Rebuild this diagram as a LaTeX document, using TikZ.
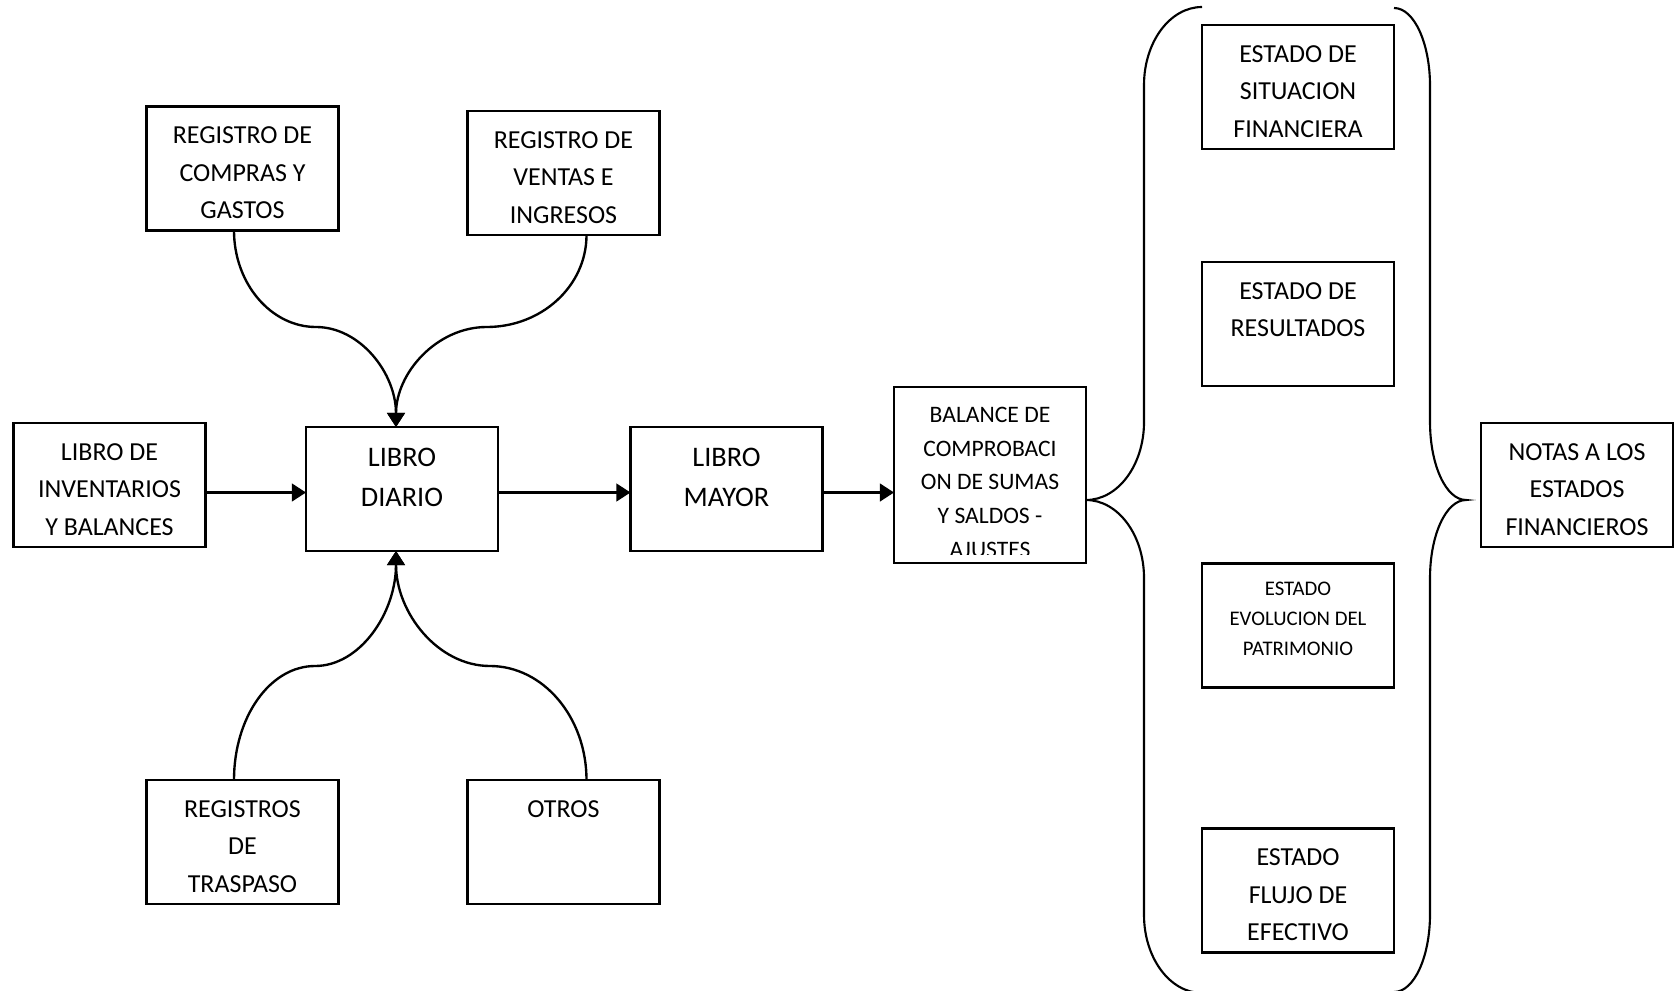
\documentclass[tikz,border=0pt]{standalone}
\usepackage{fontspec}
\setmainfont{Carlito}
\usetikzlibrary{arrows.meta,calc}

\begin{document}
\begin{tikzpicture}[x=0.4237pt,y=-0.4237pt,
  box/.style={draw, line width=0.9pt, inner sep=0pt, outer sep=0pt,
    minimum width=81.35pt, minimum height=52.54pt},
  tallbox/.style={box, minimum height=74.57pt},
  lbl/.style={anchor=north, inner sep=0pt, outer sep=0pt, align=center},
  fxi/.style={font=\fontsize{11}{15.9}\selectfont},
  fxii/.style={font=\fontsize{12}{17.2}\selectfont},
  fx/.style={font=\fontsize{10}{14.3}\selectfont},
  fsm/.style={font=\fontsize{8.8}{12.7}\selectfont},
  conn/.style={line width=1pt, -{Triangle[length=6pt,width=7.5pt]}},
  bracket/.style={line width=0.9pt},
]
\useasboundingbox (0,0) rectangle (1679,990);

% ---- boxes ----
\node[box] (compras)    at (242.5,168.5) {};
\node[box] (ventas)     at (563.5,173)   {};
\node[box] (inv)        at (109.5,485)   {};
\node[box] (diario)     at (402,489)     {};
\node[box] (mayor)      at (726.5,489)   {};
\node[tallbox] (balance) at (990,475)    {};
\node[box] (traspaso)   at (242.5,842)   {};
\node[box] (otros)      at (563.5,842)   {};
\node[box] (situacion)  at (1298,87)     {};
\node[box] (resultados) at (1298,324)    {};
\node[box] (evolucion)  at (1298,625.5)  {};
\node[box] (flujo)      at (1298,890.5)  {};
\node[box] (notas)      at (1577,485)    {};

% ---- box texts ----
\node[lbl,fxi]  (compras-t)    at ($(compras.north)+(0,20.5)$)    {REGISTRO DE\\COMPRAS Y\\GASTOS};
\node[lbl,fxi]  (ventas-t)     at ($(ventas.north)+(0,20.5)$)     {REGISTRO DE\\VENTAS E\\INGRESOS};
\node[lbl,fxi]  (inv-t)        at ($(inv.north)+(0,20.5)$)        {LIBRO DE\\INVENTARIOS\\Y BALANCES};
\node[lbl,fxii] (diario-t)     at ($(diario.north)+(0,21)$)       {LIBRO\\DIARIO};
\node[lbl,fxii] (mayor-t)      at ($(mayor.north)+(0,21)$)        {LIBRO\\MAYOR};
\node[lbl,fxi]  (traspaso-t)   at ($(traspaso.north)+(0,20.5)$)   {REGISTROS\\DE\\TRASPASO};
\node[lbl,fxi]  (otros-t)      at ($(otros.north)+(0,20.5)$)      {OTROS};
\node[lbl,fxi]  (situacion-t)  at ($(situacion.north)+(0,20.5)$)  {ESTADO DE\\SITUACION\\FINANCIERA};
\node[lbl,fxi]  (resultados-t) at ($(resultados.north)+(0,20.5)$) {ESTADO DE\\RESULTADOS};
\node[lbl,fsm]  (evolucion-t)  at ($(evolucion.north)+(0,19)$)    {ESTADO\\EVOLUCION DEL\\PATRIMONIO};
\node[lbl,fxi]  (flujo-t)      at ($(flujo.north)+(0,20.5)$)      {ESTADO\\FLUJO DE\\EFECTIVO};
\node[lbl,fxi]  (notas-t)      at ($(notas.north)+(0,20.5)$)      {NOTAS A LOS\\ESTADOS\\FINANCIEROS};

% the trial balance text runs past its box and is cut off
\begin{scope}
  \clip (balance.north west) rectangle ($(balance.south east)+(0,-9)$);
  \node[lbl,fx] (balance-t) at ($(balance.north)+(0,20)$)
    {BALANCE DE\\COMPROBACI\\ON DE SUMAS\\Y SALDOS -\\AJUSTES};
\end{scope}

% ---- curved feeders into the journal ----
\coordinate (dtop) at ($(diario.north)+(-6,0)$);
\coordinate (dbot) at ($(diario.south)+(-6,0)$);
\coordinate (k1) at (316,327);
\coordinate (k2) at (486.7,327);
\coordinate (k3) at (315,666);
\coordinate (k4) at (490,666);

\draw[conn] ($(compras.south)+(-8.5,0)$) .. controls +(0,53) and +(-45,0) .. (k1)
            .. controls +(44,0) and +(0,-54) .. (dtop);
\draw[conn] ($(ventas.south)+(23,0)$) .. controls +(0,51) and +(55,0) .. (k2)
            .. controls +(-50,0) and +(0,-54) .. (dtop);
\draw[conn] ($(traspaso.north)+(-8.5,0)$) .. controls +(0,-63) and +(-45,0) .. (k3)
            .. controls +(45,0) and +(0,62) .. (dbot);
\draw[conn] ($(otros.north)+(23,0)$) .. controls +(0,-63) and +(53,0) .. (k4)
            .. controls +(-52,0) and +(0,62) .. (dbot);

% ---- straight flow ----
\coordinate (hrow) at (0,492.5);
\draw[conn] (inv.east |- hrow) -- (diario.west |- hrow);
\draw[conn] (diario.east |- hrow) -- (mayor.west |- hrow);
\draw[conn] (mayor.east |- hrow) -- (balance.west |- hrow);

% ---- braces around the financial statements ----
\draw[bracket] (1202,7) .. controls (1170,7) and (1144,42) .. (1144,85)
  -- (1144,422) .. controls (1144,465) and (1118,500) .. (1086,500)
  .. controls (1118,500) and (1144,535) .. (1144,578)
  -- (1144,915) .. controls (1144,958) and (1170,993) .. (1202,993);
\draw[bracket] (1394,8) .. controls (1414,8) and (1430,43) .. (1430,86)
  -- (1430,422) .. controls (1430,465) and (1446,500) .. (1466,500)
  .. controls (1446,500) and (1430,535) .. (1430,578)
  -- (1430,914) .. controls (1430,957) and (1414,992) .. (1394,992);

\end{tikzpicture}
\end{document}
